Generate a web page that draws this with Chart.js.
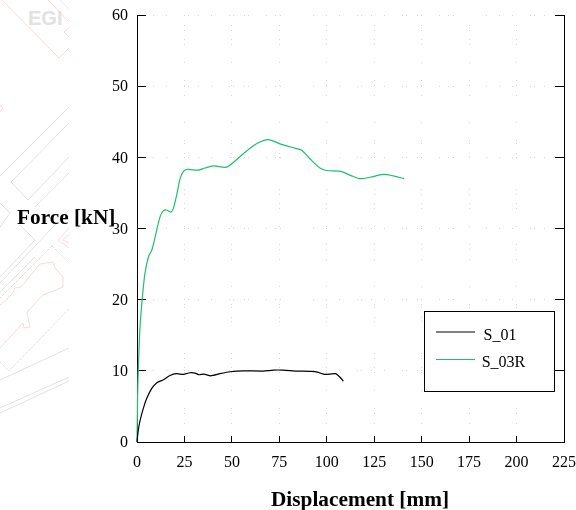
<!DOCTYPE html>
<html>
<head>
<meta charset="utf-8">
<style>
  html, body { margin: 0; background: #fff; }
  #wrap { position: relative; width: 576px; height: 510px; overflow: hidden; }
  #bg, #chart { position: absolute; left: 0; top: 0; }
</style>
<script src="https://cdn.jsdelivr.net/npm/chart.js@4/dist/chart.umd.min.js"></script>
</head>
<body>
<div id="wrap">
  <!-- faint site plan that sits behind the left edge of the figure -->
  <svg id="bg" width="69" height="510" viewBox="0 0 69 510" fill="none">
    <g stroke="#fbd9d9" stroke-width="1">
      <polyline points="2,0 59,58 69,48" />
      <polyline points="48,0 69,22" />
      <polyline points="69,28 64,32 69,37" />
      <polyline points="0,105 3,108 0,112" />
      <polyline points="69,228 58,240 69,248" />
      <polyline points="69,235 63,240 69,243" />
      <polyline points="0,305 7,299 13,293 15,288 21,287 40,264 53,262 55,268 63,277 63,287 43,295 27,312 30,327 24,328 23,323 0,348" />
    </g>
    <polyline points="60,0 69,9" stroke="#f6e2fb" />
    <g stroke="#e2e2e2" stroke-width="1">
      <polyline points="69,107 0,176" />
      <polyline points="69,123 11,182 28,200 69,157" />
      <polyline points="0,203 10,213 0,227" />
      <polyline points="69,173 35,207" />
      <polyline points="20,225 35,240 0,277" />
      <polyline points="69,210 0,283" />
      <polyline points="35,257 0,292" />
      <polyline points="69,348 0,380" />
      <polyline points="69,377 0,408" />
      <polyline points="69,381 0,413" />
      <polyline points="69,309 9,371 0,362" stroke-dasharray="3 1" />
      <polyline points="52,246 0,298" stroke-dasharray="3 1" />
      <polyline points="52,246 69,263" stroke-dasharray="3 1" />
    </g>
    <text x="28" y="25" font-family="Liberation Sans" font-weight="700" font-size="20" fill="#e2e2e2">EGI</text>
  </svg>
  <canvas id="chart" width="576" height="510"></canvas>
</div>
<script>
const s01X = [0, 0.6, 1.6, 3.3, 5.1, 7.7, 10.3, 13.9, 17.4, 20.9, 24.4, 27.9, 30.6, 32.7, 35.3, 38.8, 43.7, 49, 56, 66.5, 71.8, 77, 84.1, 92, 95.5, 99, 104.6, 107, 108.7];
const s01Y = [0, 1.5, 3, 4.7, 6.1, 7.5, 8.3, 8.75, 9.35, 9.6, 9.5, 9.73, 9.68, 9.45, 9.55, 9.3, 9.6, 9.87, 10, 9.97, 10.1, 10.1, 9.97, 9.92, 9.78, 9.5, 9.6, 9.1, 8.55];

const s03X = [0, 0.2, 0.5, 1.6, 3, 4.2, 6, 7.7, 8.3, 10, 12.1, 13.9, 15.6, 17.8, 19.1, 20.9, 22.7, 24.4, 26.5, 32.3, 35.8, 40.2, 46.4, 49, 56, 63, 69.1, 75.3, 78.9, 83.2, 86.8, 91.1, 96.4, 99.9, 106.9, 112.2, 117.5, 122.8, 129.8, 135, 140.8];
const s03Y = [0, 4, 8.6, 16.2, 20.8, 23.7, 26, 26.9, 27.4, 29.3, 31.6, 32.5, 32.6, 32.3, 32.8, 34.7, 37, 38, 38.3, 38.2, 38.5, 38.8, 38.6, 38.9, 40.5, 41.9, 42.5, 41.9, 41.6, 41.3, 41, 39.8, 38.5, 38.15, 38.05, 37.5, 37, 37.2, 37.6, 37.4, 37];

const seriesNames = ['S_01', 'S_03R'];
const seriesColors = ['#000000', '#1fbf6e'];
const xTitle = 'Displacement [mm]';
const yTitle = 'Force [kN]';

const serif = "'Liberation Serif', serif";
const toPoints = (xs, ys) => xs.map((x, i) => ({ x, y: ys[i] }));

// the gridlines in the original are sparse, unevenly spaced dots
const dotsH = [1, 12, 1, 17, 1, 3, 1, 9, 1, 12, 1, 17, 1, 3, 1, 10, 1, 3, 1, 17, 1, 8, 1, 4, 1, 32, 1, 12];
const dotsV = [1, 4, 1, 8, 1, 4, 1, 17, 1, 17, 1, 4, 1, 9, 1, 26, 1, 17, 1, 2, 1, 9, 1, 3, 1, 31];

// ticks.padding also widens the scale's label overhang, which would shrink the plot
const noOverhang = (s) => {
  s.paddingTop = 0;
  s.paddingBottom = 0;
  s.paddingLeft = 0;
  s.paddingRight = 0;
};

// axis titles and the boxed legend are placed by hand, off the plot's centre
const figureText = {
  id: 'figureText',
  afterDraw(chart) {
    const { ctx } = chart;
    ctx.save();
    ctx.fillStyle = '#000';
    ctx.textBaseline = 'alphabetic';
    ctx.font = 'bold 21.3px ' + serif;
    ctx.textAlign = 'left';
    ctx.fillText(yTitle, 17, 224);
    ctx.textAlign = 'center';
    ctx.fillText(xTitle, 360, 506);

    ctx.fillStyle = '#fff';
    ctx.strokeStyle = '#000';
    ctx.lineWidth = 1;
    ctx.fillRect(424.5, 311.5, 130, 80);
    ctx.strokeRect(424.5, 311.5, 130, 80);

    ctx.font = '16px ' + serif;
    const rows = [[332, 500, 340], [359.5, 503.5, 367]];
    chart.data.datasets.forEach((ds, i) => {
      const [ly, tx, ty] = rows[i];
      ctx.strokeStyle = ds.borderColor;
      ctx.beginPath();
      ctx.moveTo(436, ly);
      ctx.lineTo(475, ly);
      ctx.stroke();
      ctx.fillStyle = '#000';
      ctx.fillText(ds.label, tx, ty);
    });
    ctx.restore();
  },
};

new Chart(document.getElementById('chart'), {
  type: 'line',
  data: {
    datasets: [
      { label: seriesNames[0], data: toPoints(s01X, s01Y), borderColor: seriesColors[0], borderWidth: 1.2, pointRadius: 0, tension: 0.2, clip: false },
      { label: seriesNames[1], data: toPoints(s03X, s03Y), borderColor: seriesColors[1], borderWidth: 1.2, pointRadius: 0, tension: 0.3, clip: false },
    ],
  },
  options: {
    responsive: false,
    animation: false,
    layout: { padding: { top: 15 } },
    plugins: { legend: { display: false }, tooltip: { enabled: false } },
    scales: {
      x: {
        type: 'linear', min: 0, max: 225,
        afterFit: (s) => { s.height = 68; noOverhang(s); },
        ticks: { stepSize: 25, maxRotation: 0, color: '#000', font: { family: serif, size: 16 }, padding: 17 },
        grid: { color: '#d8d8d8', tickColor: '#000', tickLength: -6 },
        border: { color: '#000', width: 1, dash: dotsV, dashOffset: -10 },
      },
      y: {
        type: 'linear', min: 0, max: 60,
        afterFit: (s) => { s.width = 137; noOverhang(s); },
        ticks: { stepSize: 10, color: '#000', font: { family: serif, size: 16 }, padding: 18, labelOffset: 1 },
        grid: { color: '#d8d8d8', tickColor: '#000', tickLength: -9 },
        border: { color: '#000', width: 1, dash: dotsH, dashOffset: -15 },
      },
      yRight: {
        type: 'linear', position: 'right', min: 0, max: 60,
        afterFit: (s) => { s.width = 12; noOverhang(s); },
        ticks: { stepSize: 10, display: false },
        grid: { drawOnChartArea: false, tickColor: '#000', tickLength: -9 },
        border: { color: '#000', width: 1 },
      },
    },
  },
  plugins: [figureText],
});
</script>
</body>
</html>
